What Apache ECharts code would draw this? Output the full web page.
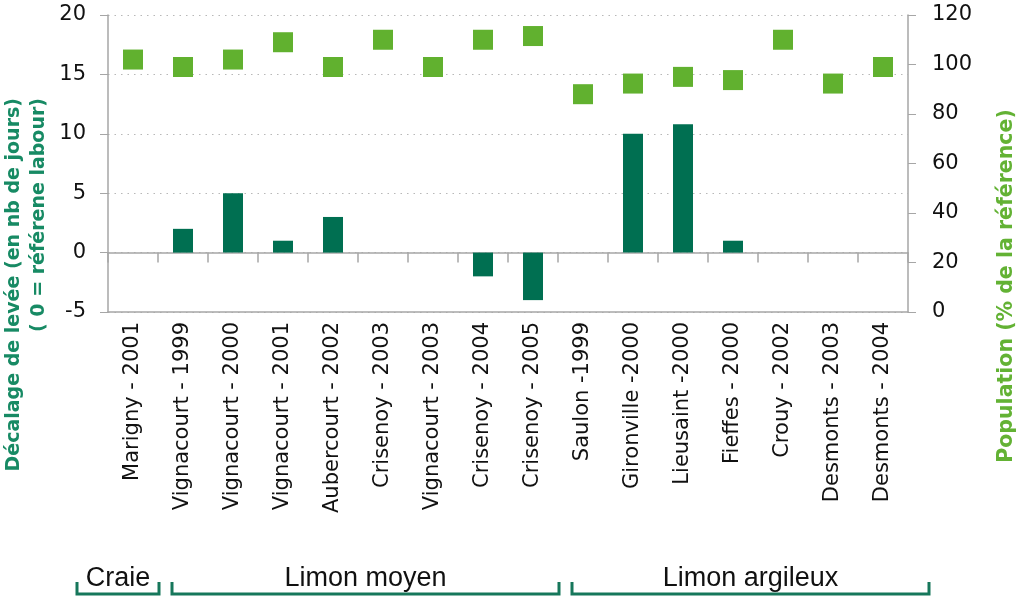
<!DOCTYPE html>
<html>
<head>
<meta charset="utf-8">
<script src="https://cdn.jsdelivr.net/npm/echarts@6/dist/echarts.min.js"></script>
<style>html,body{margin:0;padding:0;background:#fff}#c{width:1024px;height:598px}</style>
</head>
<body>
<div id="c"></div>
<script>
var categories = ["Marigny - 2001","Vignacourt - 1999","Vignacourt - 2000","Vignacourt - 2001","Aubercourt - 2002","Crisenoy - 2003","Vignacourt - 2003","Crisenoy - 2004","Crisenoy - 2005","Saulon -1999","Gironville -2000","Lieusaint -2000","Fieffes - 2000","Crouy - 2002","Desmonts - 2003","Desmonts - 2004"];
var decalage = [0, 2, 5, 1, 3, 0, 0, -2, -4, 0, 10, 10.8, 1, 0, 0, 0];
var population = [102, 99, 102, 109, 99, 110, 99, 110, 111.5, 88, 92.3, 95, 93.7, 110, 92.3, 99];
var leftTicks = {min: -5, max: 20, interval: 5};
var rightTicks = {min: 0, max: 120, interval: 20};
var groups = ["Craie", "Limon moyen", "Limon argileux"];
var leftTitle = "Décalage de levée (en nb de jours)\n( 0 = référene labour)";
var rightTitle = "Population (% de la référence)";

var chart = echarts.init(document.getElementById('c'));
var axisGrey = '#a6a6a6';
var bracketColor = '#16775b';
var bracketSpans = [[77,159],[172,559],[572,929]];
var graphics = [];
groups.forEach(function(g, i){
  var s = bracketSpans[i];
  graphics.push({type:'polyline', shape:{points:[[s[0],582],[s[0],594],[s[1],594],[s[1],582]]}, style:{stroke:bracketColor, lineWidth:3, fill:null}});
  graphics.push({type:'text', x:(s[0]+s[1])/2, y:592, style:{text:g, font:'27px "Liberation Sans", Arial, sans-serif', fill:'#111', align:'center', verticalAlign:'bottom'}});
});
graphics.push({type:'text', x:2, y:98, rotation:Math.PI/2, style:{text:leftTitle, font:'bold 19px "DejaVu Sans", sans-serif', fill:'#178a64', align:'right', verticalAlign:'top', lineHeight:25}});
graphics.push({type:'text', x:1007, y:286, rotation:Math.PI/2, style:{text:rightTitle, font:'bold 20.5px "DejaVu Sans", sans-serif', fill:'#63b234', align:'center', verticalAlign:'middle'}});

var tickFont = {fontSize:21, fontFamily:'"DejaVu Sans", sans-serif', color:'#111'};

chart.setOption({
  animation:false,
  backgroundColor:'#fff',
  grid:{left:108, right:116, top:15, bottom:286, containLabel:false},
  xAxis:[{
    type:'category', data:categories, position:'bottom',
    axisLine:{onZero:false, lineStyle:{color:axisGrey, width:1.5}},
    axisTick:{show:false},
    axisLabel:{rotate:90, margin:10, fontSize:21, fontFamily:'"DejaVu Sans", sans-serif', color:'#111', interval:0},
    splitLine:{show:false}
  },{
    type:'category', data:categories, position:'bottom',
    axisLine:{onZero:true, onZeroAxisIndex:0, lineStyle:{color:axisGrey, width:1.5}},
    axisTick:{show:true, interval:0, length:10, lineStyle:{color:axisGrey, width:1.5}, alignWithLabel:false},
    axisLabel:{show:false, interval:0},
    splitLine:{show:false}
  }],
  yAxis:[{
    type:'value', min:leftTicks.min, max:leftTicks.max, interval:leftTicks.interval, position:'left',
    axisLine:{show:true, lineStyle:{color:axisGrey, width:1.5}},
    axisTick:{show:true, length:8, lineStyle:{color:axisGrey}},
    axisLabel:Object.assign({margin:22}, tickFont),
    splitLine:{show:true, lineStyle:{color:'#b8b8b8', type:[1.5,5], width:1.2}}
  },{
    type:'value', min:rightTicks.min, max:rightTicks.max, interval:rightTicks.interval, position:'right',
    axisLine:{show:true, lineStyle:{color:axisGrey, width:1.5}},
    axisTick:{show:true, length:8, lineStyle:{color:axisGrey}},
    axisLabel:Object.assign({margin:24}, tickFont),
    splitLine:{show:false}
  }],
  series:[{
    type:'bar', name:'Décalage', data:decalage, xAxisIndex:0, yAxisIndex:0,
    barWidth:20, itemStyle:{color:'#006f51'}, z:3
  },{
    type:'scatter', name:'Population', data:population, xAxisIndex:0, yAxisIndex:1,
    symbol:'rect', symbolSize:20, itemStyle:{color:'#61b12f', opacity:1}, z:4
  }],
  graphic:graphics
});
</script>
</body>
</html>
